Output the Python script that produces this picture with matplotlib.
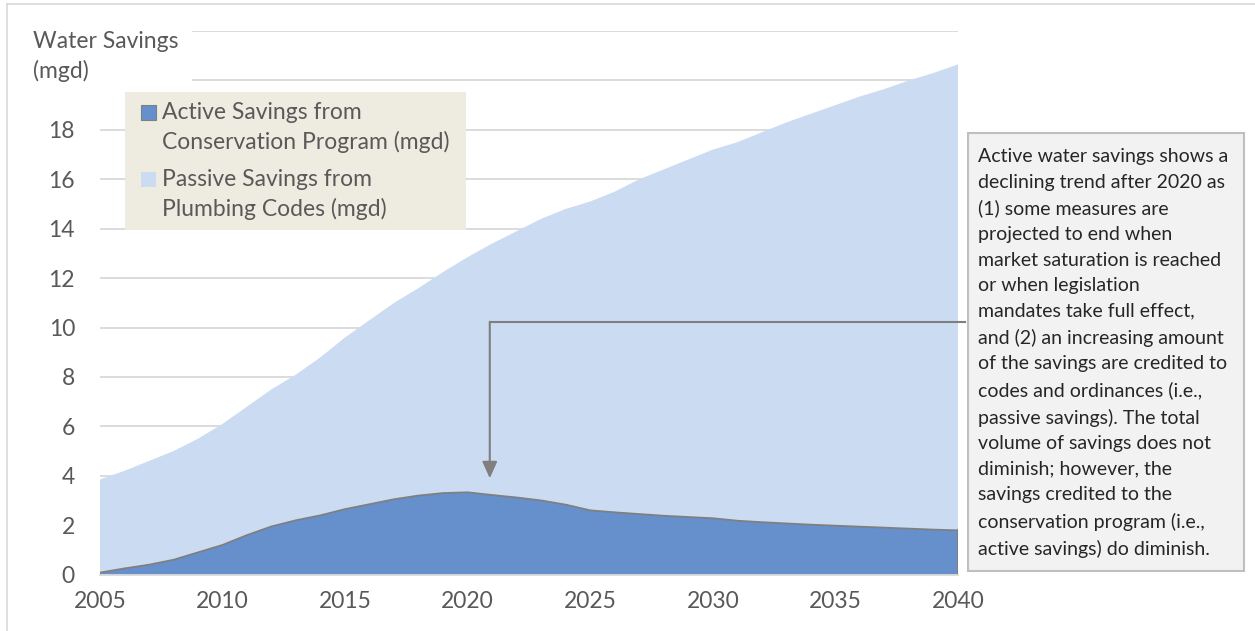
import numpy as np
import matplotlib.pyplot as plt
from matplotlib.patches import Rectangle
from matplotlib.lines import Line2D

plt.rcParams['font.family'] = ['Lato', 'DejaVu Sans']

years = list(range(2005, 2041))

# active savings from the conservation program (mgd)
active = [0.08, 0.25, 0.40, 0.60, 0.90, 1.20, 1.60, 1.95, 2.20, 2.40,
          2.65, 2.85, 3.05, 3.20, 3.30, 3.33, 3.22, 3.12, 3.00, 2.83,
          2.60, 2.52, 2.45, 2.38, 2.33, 2.28, 2.18, 2.12, 2.07, 2.02,
          1.98, 1.94, 1.90, 1.86, 1.82, 1.79]

# passive savings from plumbing codes (mgd), stacked on top of active
passive = [3.77, 3.95, 4.20, 4.40, 4.60, 4.90, 5.20, 5.55, 5.90, 6.40,
           6.95, 7.45, 7.95, 8.40, 8.95, 9.52, 10.18, 10.78, 11.40, 11.97,
           12.50, 12.98, 13.55, 14.02, 14.47, 14.92, 15.32, 15.78, 16.23, 16.63,
           17.02, 17.41, 17.75, 18.14, 18.48, 18.86]

x_ticks = [2005, 2010, 2015, 2020, 2025, 2030, 2035, 2040]
y_ticks = list(range(0, 23, 2))
y_labels = [str(v) if v <= 18 else '' for v in y_ticks]

labels = ['Active Savings from\nConservation Program (mgd)',
          'Passive Savings from\nPlumbing Codes (mgd)']

note = ("Active water savings shows a\n"
        "declining trend after 2020 as\n"
        "(1) some measures are\n"
        "projected to end when\n"
        "market saturation is reached\n"
        "or when legislation\n"
        "mandates take full effect,\n"
        "and (2) an increasing amount\n"
        "of the savings are credited to\n"
        "codes and ordinances (i.e.,\n"
        "passive savings). The total\n"
        "volume of savings does not\n"
        "diminish; however, the\n"
        "savings credited to the\n"
        "conservation program (i.e.,\n"
        "active savings) do diminish.")

dark = '#6590cc'
light = '#cbdbf1'
grey_txt = '#595959'

W, H = 1255, 631
fig = plt.figure(figsize=(W / 100, H / 100), dpi=100)
ax = fig.add_axes([100 / W, 1 - 574.6 / H, 858 / W, 543.6 / H])

ax.stackplot(years, active, passive, colors=[dark, light], zorder=2)
ax.plot(years, active, color='#7f7f7f', lw=1.3, zorder=3)
ax.plot([years[-1], years[-1]], [0, active[-1]], color='#7f7f7f', lw=1.3, zorder=3)

ax.set_xlim(2005, 2040)
ax.set_ylim(0, 22)
ax.set_xticks(x_ticks)
ax.set_yticks(y_ticks)
ax.set_yticklabels(y_labels)
ax.grid(axis='y', color='#d9d9d9', lw=1.3, zorder=0)
ax.set_axisbelow(True)
for s in ['top', 'right', 'left']:
    ax.spines[s].set_visible(False)
ax.spines['bottom'].set_color('#d9d9d9')
ax.spines['bottom'].set_linewidth(1.3)
ax.spines['bottom'].set_zorder(4)
ax.tick_params(length=0, labelsize=16.5, colors=grey_txt)
ax.xaxis.set_tick_params(pad=12)
ax.yaxis.set_tick_params(pad=18)

# legend drawn by hand so each swatch lines up with the first text line
fig.patches.append(Rectangle((125 / W, 1 - 230 / H), 341 / W, 138 / H,
                             transform=fig.transFigure, facecolor='#eeece1',
                             edgecolor='none', zorder=6))
swatches = [dict(facecolor=dark, edgecolor='#7f7f7f', lw=0.8),
            dict(facecolor=light, edgecolor='none')]
for i, (lab, sw) in enumerate(zip(labels, swatches)):
    top = 105 + i * 67
    fig.patches.append(Rectangle((141 / W, 1 - (top + 15) / H), 15 / W, 15 / H,
                                 transform=fig.transFigure, zorder=7, **sw))
    fig.text(162 / W, 1 - (top - 3) / H, lab, ha='left', va='top',
             fontsize=16.5, color=grey_txt, linespacing=1.42, zorder=7)

# axis title sits in a white box over the top gridlines
fig.text(33 / W, 1 - 31 / H, 'Water Savings\n(mgd)', ha='left', va='top',
         fontsize=16.5, color=grey_txt, linespacing=1.42, zorder=5,
         bbox=dict(facecolor='white', edgecolor='none', pad=10))

# callout box with connector arrow
fig.patches.append(Rectangle((968 / W, 1 - 571 / H), 276 / W, 438 / H,
                             transform=fig.transFigure, facecolor='#f2f2f2',
                             edgecolor='#bfbfbf', lw=1.5, zorder=1))
fig.text(978 / W, 1 - 148 / H, note, ha='left', va='top', fontsize=14,
         color='#262626', linespacing=1.61, zorder=2)

ax.plot([2020.9, 2040.3], [10.23, 10.23], color='#7f7f7f', lw=1.5,
        clip_on=False, zorder=5)
ax.annotate('', xy=(2020.9, 3.9), xytext=(2020.9, 10.23),
            arrowprops=dict(arrowstyle='-|>,head_length=1.0,head_width=0.45',
                            color='#7f7f7f', lw=1.5, shrinkA=0, shrinkB=0),
            zorder=5)

# outer chart border (left and top edges)
fig.lines.append(Line2D([7 / W, 7 / W], [0, 1 - 4 / H], transform=fig.transFigure,
                        color='#d9d9d9', lw=1.2))
fig.lines.append(Line2D([7 / W, 1], [1 - 4 / H, 1 - 4 / H], transform=fig.transFigure,
                        color='#d9d9d9', lw=1.2))

fig.savefig('out.png', dpi=100)
